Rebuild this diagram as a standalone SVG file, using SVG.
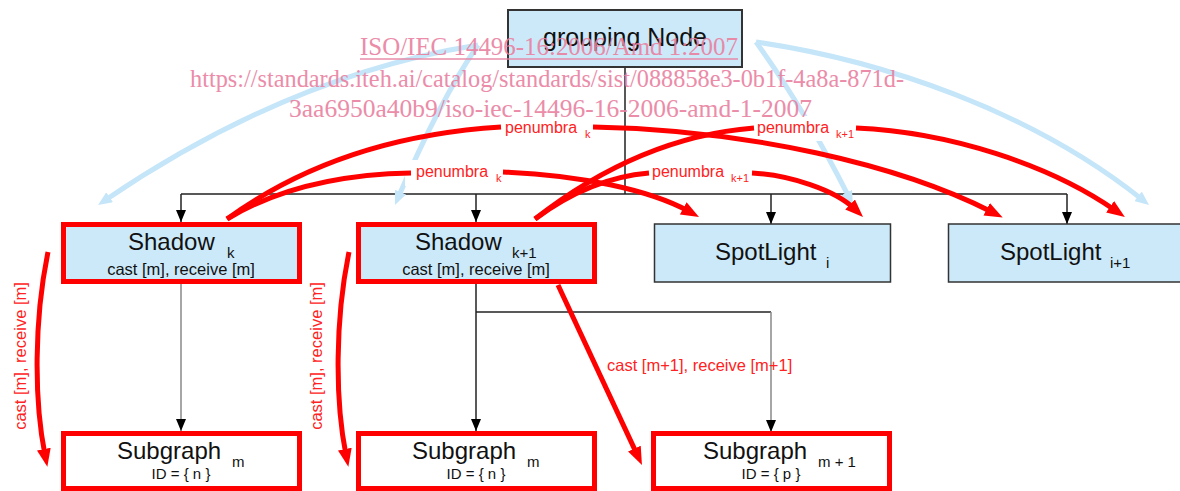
<svg xmlns="http://www.w3.org/2000/svg" width="1180" height="491" viewBox="0 0 1180 491">
<style>
  .bx{fill:#cce9fa;stroke:#333;stroke-width:1.5}
  .rb{fill:#cce9fa;stroke:#f00;stroke-width:5}
  .rw{fill:#fff;stroke:#f00;stroke-width:5}
  .t{font-family:"Liberation Sans",Arial,sans-serif;fill:#111}
  .big{font-size:24px}
  .sub{font-size:15px}
  .sm{font-size:16.5px}
  .id{font-size:15px}
  .lbl{font-family:"Liberation Sans",Arial,sans-serif;fill:#f22;font-size:16px}
  .lsub{font-family:"Liberation Sans",Arial,sans-serif;fill:#f22;font-size:11px}
  .blk{fill:none;stroke:#222;stroke-width:1.5}
  .gry{fill:none;stroke:#888;stroke-width:1.5}
  .red{fill:none;stroke:#f00;stroke-width:5}
  .blu{fill:none;stroke:#c5e5f9;stroke-width:5}
  .bg{fill:#fff}
  .wm{font-family:"Liberation Serif","Times New Roman",serif;font-size:25px;fill:#e9809f;opacity:0.9}
</style>
<defs>
  <marker id="ab" markerUnits="userSpaceOnUse" viewBox="0 0 12 10" refX="12" refY="5" markerWidth="12" markerHeight="10" orient="auto"><path d="M0,0 L12,5 L0,10 z" fill="#000"/></marker>
  <marker id="ar" markerUnits="userSpaceOnUse" viewBox="0 0 18 14" refX="6" refY="7" markerWidth="18" markerHeight="14" orient="auto"><path d="M0,0 L18,7 L0,14 z" fill="#f00"/></marker>
  <marker id="al" markerUnits="userSpaceOnUse" viewBox="0 0 14 12" refX="5" refY="6" markerWidth="14" markerHeight="12" orient="auto"><path d="M0,0 L14,6 L0,12 z" fill="#c5e5f9"/></marker>
</defs>

<g id="connectors">
  <path class="blk" d="M625,68 V194 M181,194 H1067"/>
  <path class="blk" d="M181,194 V222" marker-end="url(#ab)"/>
  <path class="blk" d="M476,194 V222" marker-end="url(#ab)"/>
  <path class="blk" d="M771,194 V224" marker-end="url(#ab)"/>
  <path class="blk" d="M1067,194 V224" marker-end="url(#ab)"/>
  <path class="gry" d="M181,284 V431" marker-end="url(#ab)"/>
  <path class="blk" d="M476,284 V431" marker-end="url(#ab)"/>
  <path class="blk" d="M476,312 H771"/>
  <path class="gry" d="M771,312 V432" stroke="#555" marker-end="url(#ab)"/>

  <path class="blu" d="M478,45 Q290,75 105.5,200" marker-end="url(#al)"/>
  <path class="blu" d="M478,45 Q440,100 398.5,196.7" marker-end="url(#al)"/>
  <path class="blu" d="M756,42 Q805,110 848.9,197" marker-end="url(#al)"/>
  <path class="blu" d="M756,42 C880,60 1030,110 1142,199.4" marker-end="url(#al)"/>

  <rect class="bg" x="405" y="160" width="98" height="26"/>
  <rect class="bg" x="501" y="116" width="92" height="25"/>
  <rect class="bg" x="649" y="160" width="103" height="26"/>
  <rect class="bg" x="754" y="116" width="102" height="25"/>

  <path class="red" d="M227,219 Q300,175 411,173"/>
  <path class="red" d="M503,172 C580,175 650,190 688.5,211.2" marker-end="url(#ar)"/>
  <path class="red" d="M227,219 Q340,137 501,127"/>
  <path class="red" d="M593,127 C750,130 900,165 992,212" marker-end="url(#ar)"/>
  <path class="red" d="M535,219 Q590,178 649,173"/>
  <path class="red" d="M752,173 C790,175 835,190 854.4,208.7" marker-end="url(#ar)"/>
  <path class="red" d="M535,219 Q640,137 754,128"/>
  <path class="red" d="M856,128 C950,132 1050,165 1115,210.2" marker-end="url(#ar)"/>

  <path class="red" d="M48,252 C34,320 34,400 45,455" marker-end="url(#ar)"/>
  <path class="red" d="M349,252 C335,320 335,400 346,455" marker-end="url(#ar)"/>
  <path class="red" d="M558,285 L636.9,454.1" marker-end="url(#ar)"/>

  <text class="lbl" x="416" y="177">penumbra</text><text class="lsub" x="496" y="182">k</text>
  <text class="lbl" x="505" y="133">penumbra</text><text class="lsub" x="585" y="138">k</text>
  <text class="lbl" x="652" y="177">penumbra</text><text class="lsub" x="731" y="182">k+1</text>
  <text class="lbl" x="757" y="133">penumbra</text><text class="lsub" x="836" y="138">k+1</text>
  <text class="lbl" style="font-size:16.5px" text-anchor="middle" transform="translate(26,356) rotate(-90)">cast [m], receive [m]</text>
  <text class="lbl" style="font-size:16.5px" text-anchor="middle" transform="translate(322,356) rotate(-90)">cast [m], receive [m]</text>
  <text class="lbl" style="font-size:16.5px" x="607" y="371">cast [m+1], receive [m+1]</text>
</g>

<g id="grouping-node">
  <rect x="508" y="10" width="234" height="57" fill="#cce9fa" stroke="#333" stroke-width="2"/>
  <text class="t" x="625" y="46" text-anchor="middle" style="font-size:25px">grouping Node</text>
</g>

<g id="shadow-k">
  <rect class="rb" x="63.5" y="224.5" width="236" height="57"/>
  <text class="t big" x="128" y="250">Shadow</text><text class="t sub" x="227" y="258">k</text>
  <text class="t sm" x="181" y="275" text-anchor="middle">cast [m], receive [m]</text>
</g>

<g id="shadow-k1">
  <rect class="rb" x="358.5" y="224.5" width="236" height="57"/>
  <text class="t big" x="415" y="250">Shadow</text><text class="t sub" x="512" y="258">k+1</text>
  <text class="t sm" x="476" y="275" text-anchor="middle">cast [m], receive [m]</text>
</g>

<g id="spotlight-i">
  <rect class="bx" x="654.5" y="224" width="236" height="58"/>
  <text class="t big" x="715" y="260">SpotLight</text><text class="t sub" x="826" y="268">i</text>
</g>

<g id="spotlight-i1">
  <rect class="bx" x="948.5" y="224" width="236" height="58"/>
  <text class="t big" x="1000" y="260">SpotLight</text><text class="t sub" x="1110" y="268">i+1</text>
</g>

<g id="subgraph-m-1">
  <rect class="rw" x="63.5" y="433.5" width="236" height="55"/>
  <text class="t big" x="117" y="459">Subgraph</text><text class="t sub" x="232" y="467">m</text>
  <text class="t id" x="181" y="479" text-anchor="middle">ID = { n }</text>
</g>

<g id="subgraph-m-2">
  <rect class="rw" x="358.5" y="433.5" width="236" height="55"/>
  <text class="t big" x="412" y="459">Subgraph</text><text class="t sub" x="527" y="467">m</text>
  <text class="t id" x="476" y="479" text-anchor="middle">ID = { n }</text>
</g>

<g id="subgraph-m1">
  <rect class="rw" x="653.5" y="433.5" width="236" height="55"/>
  <text class="t big" x="703" y="459">Subgraph</text><text class="t sub" x="818" y="467">m + 1</text>
  <text class="t id" x="771" y="479" text-anchor="middle">ID = { p }</text>
</g>

<g id="watermark">
  <text class="wm" x="360" y="55" textLength="378" lengthAdjust="spacingAndGlyphs">ISO/IEC 14496-16:2006/Amd 1:2007</text>
  <line x1="360" y1="59" x2="738" y2="59" stroke="#e9809f" stroke-width="1.5" opacity="0.9"/>
  <text class="wm" x="190" y="87" textLength="714" lengthAdjust="spacingAndGlyphs">https://standards.iteh.ai/catalog/standards/sist/088858e3-0b1f-4a8a-871d-</text>
  <text class="wm" x="289" y="117" textLength="523" lengthAdjust="spacingAndGlyphs">3aa6950a40b9/iso-iec-14496-16-2006-amd-1-2007</text>
</g>
</svg>
